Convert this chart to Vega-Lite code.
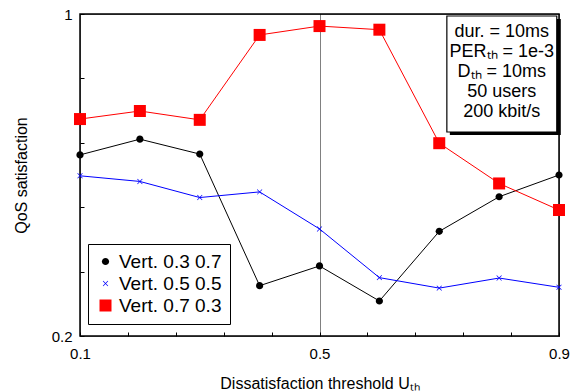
{
  "$schema": "https://vega.github.io/schema/vega-lite/v6.json",
  "width": 479,
  "height": 322,
  "autosize": "none",
  "padding": {"left": 80, "top": 14, "right": 12, "bottom": 56},
  "config": {
    "font": "Liberation Sans",
    "view": {"stroke": "black", "strokeWidth": 1.5},
    "axis": {
      "domain": false,
      "grid": true,
      "gridColor": "black",
      "gridDash": [1, 1],
      "gridWidth": 1,
      "tickColor": "black",
      "tickSize": -4,
      "labelColor": "black",
      "titleColor": "black",
      "labelFontSize": 15,
      "titleFontSize": 16,
      "titleFontWeight": "normal",
      "labelFont": "Liberation Sans",
      "titleFont": "Liberation Sans"
    }
  },
  "datasets": {
    "qos": [
      {"u": 0.1, "q": 0.650, "series": "Vert. 0.3 0.7"},
      {"u": 0.2, "q": 0.689, "series": "Vert. 0.3 0.7"},
      {"u": 0.3, "q": 0.652, "series": "Vert. 0.3 0.7"},
      {"u": 0.4, "q": 0.325, "series": "Vert. 0.3 0.7"},
      {"u": 0.5, "q": 0.374, "series": "Vert. 0.3 0.7"},
      {"u": 0.6, "q": 0.287, "series": "Vert. 0.3 0.7"},
      {"u": 0.7, "q": 0.460, "series": "Vert. 0.3 0.7"},
      {"u": 0.8, "q": 0.546, "series": "Vert. 0.3 0.7"},
      {"u": 0.9, "q": 0.600, "series": "Vert. 0.3 0.7"},
      {"u": 0.1, "q": 0.598, "series": "Vert. 0.5 0.5"},
      {"u": 0.2, "q": 0.584, "series": "Vert. 0.5 0.5"},
      {"u": 0.3, "q": 0.544, "series": "Vert. 0.5 0.5"},
      {"u": 0.4, "q": 0.558, "series": "Vert. 0.5 0.5"},
      {"u": 0.5, "q": 0.466, "series": "Vert. 0.5 0.5"},
      {"u": 0.6, "q": 0.345, "series": "Vert. 0.5 0.5"},
      {"u": 0.7, "q": 0.319, "series": "Vert. 0.5 0.5"},
      {"u": 0.8, "q": 0.344, "series": "Vert. 0.5 0.5"},
      {"u": 0.9, "q": 0.321, "series": "Vert. 0.5 0.5"},
      {"u": 0.1, "q": 0.739, "series": "Vert. 0.7 0.3"},
      {"u": 0.2, "q": 0.759, "series": "Vert. 0.7 0.3"},
      {"u": 0.3, "q": 0.737, "series": "Vert. 0.7 0.3"},
      {"u": 0.4, "q": 0.948, "series": "Vert. 0.7 0.3"},
      {"u": 0.5, "q": 0.970, "series": "Vert. 0.7 0.3"},
      {"u": 0.6, "q": 0.961, "series": "Vert. 0.7 0.3"},
      {"u": 0.7, "q": 0.679, "series": "Vert. 0.7 0.3"},
      {"u": 0.8, "q": 0.579, "series": "Vert. 0.7 0.3"},
      {"u": 0.9, "q": 0.513, "series": "Vert. 0.7 0.3"}
    ]
  },
  "layer": [
    {
      "data": {"name": "qos"},
      "mark": {"type": "line", "strokeWidth": 1},
      "encoding": {
        "x": {
          "field": "u", "type": "quantitative",
          "scale": {"domain": [0.1, 0.9], "nice": false, "zero": false},
          "axis": {
            "title": "Dissatisfaction threshold Uₜₕ",
            "values": [0.1,0.12,0.14,0.16,0.18,0.2,0.22,0.24,0.26,0.28,0.3,0.32,0.34,0.36,0.38,0.4,0.42,0.44,0.46,0.48,0.5,0.52,0.54,0.56,0.58,0.6,0.62,0.64,0.66,0.68,0.7,0.72,0.74,0.76,0.78,0.8,0.82,0.84,0.86,0.88,0.9],
            "labelExpr": "abs(datum.value*10 - round(datum.value*10)) < 0.001 ? format(datum.value, '.1f') : ''",
            "gridOpacity": {"condition": {"test": "abs(datum.value*10 - round(datum.value*10)) < 0.001", "value": 1}, "value": 0},
            "labelFlush": false,
            "labelOverlap": false,
            "labelPadding": 14,
            "titlePadding": 14
          }
        },
        "y": {
          "field": "q", "type": "quantitative",
          "scale": {"domain": [0.2, 1], "nice": false, "zero": false},
          "axis": {
            "title": "QoS satisfaction",
            "values": [0.2,0.22,0.24,0.26,0.28,0.3,0.32,0.34,0.36,0.38,0.4,0.42,0.44,0.46,0.48,0.5,0.52,0.54,0.56,0.58,0.6,0.62,0.64,0.66,0.68,0.7,0.72,0.74,0.76,0.78,0.8,0.82,0.84,0.86,0.88,0.9,0.92,0.94,0.96,0.98,1],
            "labelExpr": "abs(datum.value*10 - round(datum.value*10)) < 0.001 ? (datum.value == 1 ? '1' : format(datum.value, '.1f')) : ''",
            "gridOpacity": {"condition": {"test": "abs(datum.value*10 - round(datum.value*10)) < 0.001", "value": 1}, "value": 0},
            "labelFlush": false,
            "labelOverlap": false,
            "labelPadding": 12,
            "titlePadding": 22
          }
        },
        "stroke": {
          "field": "series", "type": "nominal",
          "scale": {"domain": ["Vert. 0.7 0.3", "Vert. 0.5 0.5", "Vert. 0.3 0.7"], "range": ["#ff0000", "#0000ff", "black"]},
          "legend": null
        }
      }
    },
    {
      "data": {"name": "qos"},
      "mark": {"type": "point", "filled": true, "opacity": 1, "size": 144},
      "encoding": {
        "x": {"field": "u", "type": "quantitative"},
        "y": {"field": "q", "type": "quantitative"},
        "color": {
          "field": "series", "type": "nominal",
          "scale": {"domain": ["Vert. 0.3 0.7", "Vert. 0.5 0.5", "Vert. 0.7 0.3"], "range": ["black", "#0000ff", "#ff0000"]},
          "legend": {
            "title": null,
            "orient": "none",
            "legendX": 8,
            "legendY": 230,
            "padding": 8,
            "fillColor": "white",
            "strokeColor": "black",
            "labelFont": "Liberation Sans",
            "labelFontSize": 19,
            "labelColor": "black",
            "labelOffset": 4,
            "rowPadding": 2,
            "symbolSize": 144
          }
        },
        "shape": {
          "field": "series", "type": "nominal",
          "scale": {"domain": ["Vert. 0.3 0.7", "Vert. 0.5 0.5", "Vert. 0.7 0.3"], "range": ["M-0.6,0A0.6,0.6,0,1,1,0.6,0A0.6,0.6,0,1,1,-0.6,0Z", "M-0.45,-0.37L-0.37,-0.45L0.45,0.37L0.37,0.45ZM-0.45,0.37L0.37,-0.45L0.45,-0.37L-0.37,0.45Z", "square"]}
        }
      }
    },
    {
      "data": {"values": [{}]},
      "mark": {"type": "rect", "color": "black", "clip": false},
      "encoding": {
        "x": {"datum": 0.1184, "type": "quantitative"},
        "x2": {"datum": 0.3446},
        "y": {"datum": 0.4199, "type": "quantitative"},
        "y2": {"datum": 0.2291}
      }
    },
    {
      "data": {"values": [{}]},
      "mark": {"type": "rect", "color": "black", "clip": false},
      "encoding": {
        "x": {"datum": 0.7177, "type": "quantitative"},
        "x2": {"datum": 0.903},
        "y": {"datum": 0.9876, "type": "quantitative"},
        "y2": {"datum": 0.6994}
      }
    },
    {
      "data": {"values": [{}]},
      "mark": {"type": "rect", "fill": "white", "stroke": "black", "strokeWidth": 1.2, "clip": false},
      "encoding": {
        "x": {"datum": 0.7127, "type": "quantitative"},
        "x2": {"datum": 0.8963},
        "y": {"datum": 0.995, "type": "quantitative"},
        "y2": {"datum": 0.7068}
      }
    },
    {
      "data": {"values": [{}]},
      "mark": {
        "type": "text",
        "text": ["dur. = 10ms", "PERₜₕ = 1e-3", "Dₜₕ = 10ms", "50 users", "200 kbit/s"],
        "font": "Liberation Sans",
        "fontSize": 18,
        "lineHeight": 20,
        "align": "center",
        "baseline": "middle",
        "color": "black"
      },
      "encoding": {
        "x": {"datum": 0.8045, "type": "quantitative"},
        "y": {"datum": 0.9553, "type": "quantitative"}
      }
    }
  ]
}
